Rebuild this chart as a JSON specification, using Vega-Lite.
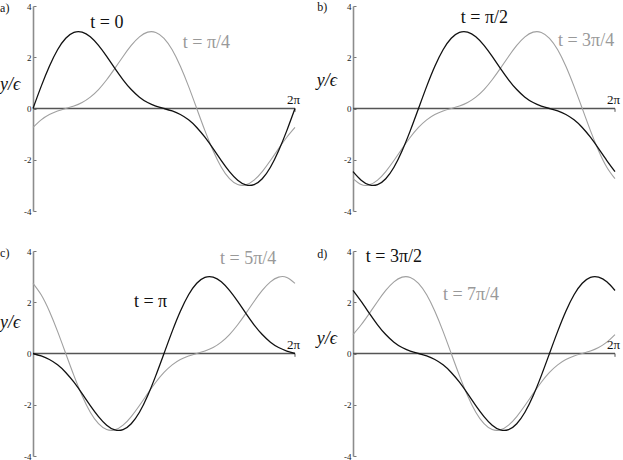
{
"$schema": "https://vega.github.io/schema/vega-lite/v6.json",
"padding": 0,
"bounds": "flush",
"columns": 2,
"spacing": {"row": 40, "column": 58},
"config": {
  "view": {"stroke": null},
  "axisX": {"disable": true},
  "axisY": {"domainColor": "#8c8c8c", "domainWidth": 1.6, "tickColor": "#777777", "tickSize": -3, "tickWidth": 1, "labelFont": "Liberation Serif", "labelFontSize": 9, "labelColor": "#222222", "labelPadding": 5, "grid": false, "tickCount": 4, "labelExpr": "'' + datum.value"},
  "text": {"font": "Liberation Serif"}
},
"datasets": {"curves": [
{"p":"a","c":"g","x":0,"y":-0.739},{"p":"a","c":"g","x":0.196,"y":-0.443},{"p":"a","c":"g","x":0.393,"y":-0.234},{"p":"a","c":"g","x":0.589,"y":-0.097},{"p":"a","c":"g","x":0.785,"y":0},{"p":"a","c":"g","x":0.982,"y":0.097},{"p":"a","c":"g","x":1.178,"y":0.234},{"p":"a","c":"g","x":1.374,"y":0.443},{"p":"a","c":"g","x":1.571,"y":0.739},{"p":"a","c":"g","x":1.767,"y":1.121},{"p":"a","c":"g","x":1.963,"y":1.566},{"p":"a","c":"g","x":2.16,"y":2.03},{"p":"a","c":"g","x":2.356,"y":2.46},{"p":"a","c":"g","x":2.553,"y":2.796},{"p":"a","c":"g","x":2.749,"y":2.98},{"p":"a","c":"g","x":2.945,"y":2.969},{"p":"a","c":"g","x":3.142,"y":2.739},{"p":"a","c":"g","x":3.338,"y":2.291},{"p":"a","c":"g","x":3.534,"y":1.648},{"p":"a","c":"g","x":3.731,"y":0.863},{"p":"a","c":"g","x":3.927,"y":0},{"p":"a","c":"g","x":4.123,"y":-0.863},{"p":"a","c":"g","x":4.32,"y":-1.648},{"p":"a","c":"g","x":4.516,"y":-2.291},{"p":"a","c":"g","x":4.712,"y":-2.739},{"p":"a","c":"g","x":4.909,"y":-2.969},{"p":"a","c":"g","x":5.105,"y":-2.98},{"p":"a","c":"g","x":5.301,"y":-2.796},{"p":"a","c":"g","x":5.498,"y":-2.46},{"p":"a","c":"g","x":5.694,"y":-2.03},{"p":"a","c":"g","x":5.89,"y":-1.566},{"p":"a","c":"g","x":6.087,"y":-1.121},{"p":"a","c":"g","x":6.283,"y":-0.739},
{"p":"a","c":"k","x":0,"y":0},{"p":"a","c":"k","x":0.196,"y":0.863},{"p":"a","c":"k","x":0.393,"y":1.648},{"p":"a","c":"k","x":0.589,"y":2.291},{"p":"a","c":"k","x":0.785,"y":2.739},{"p":"a","c":"k","x":0.982,"y":2.969},{"p":"a","c":"k","x":1.178,"y":2.98},{"p":"a","c":"k","x":1.374,"y":2.796},{"p":"a","c":"k","x":1.571,"y":2.46},{"p":"a","c":"k","x":1.767,"y":2.03},{"p":"a","c":"k","x":1.963,"y":1.566},{"p":"a","c":"k","x":2.16,"y":1.121},{"p":"a","c":"k","x":2.356,"y":0.739},{"p":"a","c":"k","x":2.553,"y":0.443},{"p":"a","c":"k","x":2.749,"y":0.234},{"p":"a","c":"k","x":2.945,"y":0.097},{"p":"a","c":"k","x":3.142,"y":0},{"p":"a","c":"k","x":3.338,"y":-0.097},{"p":"a","c":"k","x":3.534,"y":-0.234},{"p":"a","c":"k","x":3.731,"y":-0.443},{"p":"a","c":"k","x":3.927,"y":-0.739},{"p":"a","c":"k","x":4.123,"y":-1.121},{"p":"a","c":"k","x":4.32,"y":-1.566},{"p":"a","c":"k","x":4.516,"y":-2.03},{"p":"a","c":"k","x":4.712,"y":-2.46},{"p":"a","c":"k","x":4.909,"y":-2.796},{"p":"a","c":"k","x":5.105,"y":-2.98},{"p":"a","c":"k","x":5.301,"y":-2.969},{"p":"a","c":"k","x":5.498,"y":-2.739},{"p":"a","c":"k","x":5.694,"y":-2.291},{"p":"a","c":"k","x":5.89,"y":-1.648},{"p":"a","c":"k","x":6.087,"y":-0.863},{"p":"a","c":"k","x":6.283,"y":0},
{"p":"b","c":"g","x":0,"y":-2.739},{"p":"b","c":"g","x":0.196,"y":-2.969},{"p":"b","c":"g","x":0.393,"y":-2.98},{"p":"b","c":"g","x":0.589,"y":-2.796},{"p":"b","c":"g","x":0.785,"y":-2.46},{"p":"b","c":"g","x":0.982,"y":-2.03},{"p":"b","c":"g","x":1.178,"y":-1.566},{"p":"b","c":"g","x":1.374,"y":-1.121},{"p":"b","c":"g","x":1.571,"y":-0.739},{"p":"b","c":"g","x":1.767,"y":-0.443},{"p":"b","c":"g","x":1.963,"y":-0.234},{"p":"b","c":"g","x":2.16,"y":-0.097},{"p":"b","c":"g","x":2.356,"y":0},{"p":"b","c":"g","x":2.553,"y":0.097},{"p":"b","c":"g","x":2.749,"y":0.234},{"p":"b","c":"g","x":2.945,"y":0.443},{"p":"b","c":"g","x":3.142,"y":0.739},{"p":"b","c":"g","x":3.338,"y":1.121},{"p":"b","c":"g","x":3.534,"y":1.566},{"p":"b","c":"g","x":3.731,"y":2.03},{"p":"b","c":"g","x":3.927,"y":2.46},{"p":"b","c":"g","x":4.123,"y":2.796},{"p":"b","c":"g","x":4.32,"y":2.98},{"p":"b","c":"g","x":4.516,"y":2.969},{"p":"b","c":"g","x":4.712,"y":2.739},{"p":"b","c":"g","x":4.909,"y":2.291},{"p":"b","c":"g","x":5.105,"y":1.648},{"p":"b","c":"g","x":5.301,"y":0.863},{"p":"b","c":"g","x":5.498,"y":0},{"p":"b","c":"g","x":5.694,"y":-0.863},{"p":"b","c":"g","x":5.89,"y":-1.648},{"p":"b","c":"g","x":6.087,"y":-2.291},{"p":"b","c":"g","x":6.283,"y":-2.739},
{"p":"b","c":"k","x":0,"y":-2.46},{"p":"b","c":"k","x":0.196,"y":-2.796},{"p":"b","c":"k","x":0.393,"y":-2.98},{"p":"b","c":"k","x":0.589,"y":-2.969},{"p":"b","c":"k","x":0.785,"y":-2.739},{"p":"b","c":"k","x":0.982,"y":-2.291},{"p":"b","c":"k","x":1.178,"y":-1.648},{"p":"b","c":"k","x":1.374,"y":-0.863},{"p":"b","c":"k","x":1.571,"y":0},{"p":"b","c":"k","x":1.767,"y":0.863},{"p":"b","c":"k","x":1.963,"y":1.648},{"p":"b","c":"k","x":2.16,"y":2.291},{"p":"b","c":"k","x":2.356,"y":2.739},{"p":"b","c":"k","x":2.553,"y":2.969},{"p":"b","c":"k","x":2.749,"y":2.98},{"p":"b","c":"k","x":2.945,"y":2.796},{"p":"b","c":"k","x":3.142,"y":2.46},{"p":"b","c":"k","x":3.338,"y":2.03},{"p":"b","c":"k","x":3.534,"y":1.566},{"p":"b","c":"k","x":3.731,"y":1.121},{"p":"b","c":"k","x":3.927,"y":0.739},{"p":"b","c":"k","x":4.123,"y":0.443},{"p":"b","c":"k","x":4.32,"y":0.234},{"p":"b","c":"k","x":4.516,"y":0.097},{"p":"b","c":"k","x":4.712,"y":0},{"p":"b","c":"k","x":4.909,"y":-0.097},{"p":"b","c":"k","x":5.105,"y":-0.234},{"p":"b","c":"k","x":5.301,"y":-0.443},{"p":"b","c":"k","x":5.498,"y":-0.739},{"p":"b","c":"k","x":5.694,"y":-1.121},{"p":"b","c":"k","x":5.89,"y":-1.566},{"p":"b","c":"k","x":6.087,"y":-2.03},{"p":"b","c":"k","x":6.283,"y":-2.46},
{"p":"c","c":"g","x":0,"y":2.739},{"p":"c","c":"g","x":0.196,"y":2.291},{"p":"c","c":"g","x":0.393,"y":1.648},{"p":"c","c":"g","x":0.589,"y":0.863},{"p":"c","c":"g","x":0.785,"y":0},{"p":"c","c":"g","x":0.982,"y":-0.863},{"p":"c","c":"g","x":1.178,"y":-1.648},{"p":"c","c":"g","x":1.374,"y":-2.291},{"p":"c","c":"g","x":1.571,"y":-2.739},{"p":"c","c":"g","x":1.767,"y":-2.969},{"p":"c","c":"g","x":1.963,"y":-2.98},{"p":"c","c":"g","x":2.16,"y":-2.796},{"p":"c","c":"g","x":2.356,"y":-2.46},{"p":"c","c":"g","x":2.553,"y":-2.03},{"p":"c","c":"g","x":2.749,"y":-1.566},{"p":"c","c":"g","x":2.945,"y":-1.121},{"p":"c","c":"g","x":3.142,"y":-0.739},{"p":"c","c":"g","x":3.338,"y":-0.443},{"p":"c","c":"g","x":3.534,"y":-0.234},{"p":"c","c":"g","x":3.731,"y":-0.097},{"p":"c","c":"g","x":3.927,"y":0},{"p":"c","c":"g","x":4.123,"y":0.097},{"p":"c","c":"g","x":4.32,"y":0.234},{"p":"c","c":"g","x":4.516,"y":0.443},{"p":"c","c":"g","x":4.712,"y":0.739},{"p":"c","c":"g","x":4.909,"y":1.121},{"p":"c","c":"g","x":5.105,"y":1.566},{"p":"c","c":"g","x":5.301,"y":2.03},{"p":"c","c":"g","x":5.498,"y":2.46},{"p":"c","c":"g","x":5.694,"y":2.796},{"p":"c","c":"g","x":5.89,"y":2.98},{"p":"c","c":"g","x":6.087,"y":2.969},{"p":"c","c":"g","x":6.283,"y":2.739},
{"p":"c","c":"k","x":0,"y":0},{"p":"c","c":"k","x":0.196,"y":-0.097},{"p":"c","c":"k","x":0.393,"y":-0.234},{"p":"c","c":"k","x":0.589,"y":-0.443},{"p":"c","c":"k","x":0.785,"y":-0.739},{"p":"c","c":"k","x":0.982,"y":-1.121},{"p":"c","c":"k","x":1.178,"y":-1.566},{"p":"c","c":"k","x":1.374,"y":-2.03},{"p":"c","c":"k","x":1.571,"y":-2.46},{"p":"c","c":"k","x":1.767,"y":-2.796},{"p":"c","c":"k","x":1.963,"y":-2.98},{"p":"c","c":"k","x":2.16,"y":-2.969},{"p":"c","c":"k","x":2.356,"y":-2.739},{"p":"c","c":"k","x":2.553,"y":-2.291},{"p":"c","c":"k","x":2.749,"y":-1.648},{"p":"c","c":"k","x":2.945,"y":-0.863},{"p":"c","c":"k","x":3.142,"y":0},{"p":"c","c":"k","x":3.338,"y":0.863},{"p":"c","c":"k","x":3.534,"y":1.648},{"p":"c","c":"k","x":3.731,"y":2.291},{"p":"c","c":"k","x":3.927,"y":2.739},{"p":"c","c":"k","x":4.123,"y":2.969},{"p":"c","c":"k","x":4.32,"y":2.98},{"p":"c","c":"k","x":4.516,"y":2.796},{"p":"c","c":"k","x":4.712,"y":2.46},{"p":"c","c":"k","x":4.909,"y":2.03},{"p":"c","c":"k","x":5.105,"y":1.566},{"p":"c","c":"k","x":5.301,"y":1.121},{"p":"c","c":"k","x":5.498,"y":0.739},{"p":"c","c":"k","x":5.694,"y":0.443},{"p":"c","c":"k","x":5.89,"y":0.234},{"p":"c","c":"k","x":6.087,"y":0.097},{"p":"c","c":"k","x":6.283,"y":0},
{"p":"d","c":"g","x":0,"y":0.739},{"p":"d","c":"g","x":0.196,"y":1.121},{"p":"d","c":"g","x":0.393,"y":1.566},{"p":"d","c":"g","x":0.589,"y":2.03},{"p":"d","c":"g","x":0.785,"y":2.46},{"p":"d","c":"g","x":0.982,"y":2.796},{"p":"d","c":"g","x":1.178,"y":2.98},{"p":"d","c":"g","x":1.374,"y":2.969},{"p":"d","c":"g","x":1.571,"y":2.739},{"p":"d","c":"g","x":1.767,"y":2.291},{"p":"d","c":"g","x":1.963,"y":1.648},{"p":"d","c":"g","x":2.16,"y":0.863},{"p":"d","c":"g","x":2.356,"y":0},{"p":"d","c":"g","x":2.553,"y":-0.863},{"p":"d","c":"g","x":2.749,"y":-1.648},{"p":"d","c":"g","x":2.945,"y":-2.291},{"p":"d","c":"g","x":3.142,"y":-2.739},{"p":"d","c":"g","x":3.338,"y":-2.969},{"p":"d","c":"g","x":3.534,"y":-2.98},{"p":"d","c":"g","x":3.731,"y":-2.796},{"p":"d","c":"g","x":3.927,"y":-2.46},{"p":"d","c":"g","x":4.123,"y":-2.03},{"p":"d","c":"g","x":4.32,"y":-1.566},{"p":"d","c":"g","x":4.516,"y":-1.121},{"p":"d","c":"g","x":4.712,"y":-0.739},{"p":"d","c":"g","x":4.909,"y":-0.443},{"p":"d","c":"g","x":5.105,"y":-0.234},{"p":"d","c":"g","x":5.301,"y":-0.097},{"p":"d","c":"g","x":5.498,"y":0},{"p":"d","c":"g","x":5.694,"y":0.097},{"p":"d","c":"g","x":5.89,"y":0.234},{"p":"d","c":"g","x":6.087,"y":0.443},{"p":"d","c":"g","x":6.283,"y":0.739},
{"p":"d","c":"k","x":0,"y":2.46},{"p":"d","c":"k","x":0.196,"y":2.03},{"p":"d","c":"k","x":0.393,"y":1.566},{"p":"d","c":"k","x":0.589,"y":1.121},{"p":"d","c":"k","x":0.785,"y":0.739},{"p":"d","c":"k","x":0.982,"y":0.443},{"p":"d","c":"k","x":1.178,"y":0.234},{"p":"d","c":"k","x":1.374,"y":0.097},{"p":"d","c":"k","x":1.571,"y":0},{"p":"d","c":"k","x":1.767,"y":-0.097},{"p":"d","c":"k","x":1.963,"y":-0.234},{"p":"d","c":"k","x":2.16,"y":-0.443},{"p":"d","c":"k","x":2.356,"y":-0.739},{"p":"d","c":"k","x":2.553,"y":-1.121},{"p":"d","c":"k","x":2.749,"y":-1.566},{"p":"d","c":"k","x":2.945,"y":-2.03},{"p":"d","c":"k","x":3.142,"y":-2.46},{"p":"d","c":"k","x":3.338,"y":-2.796},{"p":"d","c":"k","x":3.534,"y":-2.98},{"p":"d","c":"k","x":3.731,"y":-2.969},{"p":"d","c":"k","x":3.927,"y":-2.739},{"p":"d","c":"k","x":4.123,"y":-2.291},{"p":"d","c":"k","x":4.32,"y":-1.648},{"p":"d","c":"k","x":4.516,"y":-0.863},{"p":"d","c":"k","x":4.712,"y":0},{"p":"d","c":"k","x":4.909,"y":0.863},{"p":"d","c":"k","x":5.105,"y":1.648},{"p":"d","c":"k","x":5.301,"y":2.291},{"p":"d","c":"k","x":5.498,"y":2.739},{"p":"d","c":"k","x":5.694,"y":2.969},{"p":"d","c":"k","x":5.89,"y":2.98},{"p":"d","c":"k","x":6.087,"y":2.796},{"p":"d","c":"k","x":6.283,"y":2.46}
]},
"concat": [
{
 "width": 262, "height": 205,
 "data": {"values": [{}]},
 "layer": [
  {"mark": {"type": "rule", "color": "#555555", "strokeWidth": 1.4}, "encoding": {"x": {"datum": 0, "scale": {"domain": [0, 6.2832], "nice": false, "zero": false}}, "x2": {"datum": 6.2832}, "y": {"datum": 0, "scale": {"domain": [-4, 4], "nice": false}}}},
  {"mark": {"type": "rule", "color": "#555555", "strokeWidth": 1}, "encoding": {"x": {"datum": 6.2832}, "y": {"datum": 0}, "y2": {"datum": -0.13}}},
  {"data": {"name": "curves"}, "transform": [{"filter": "datum.p == 'a'"}], "mark": {"type": "line", "interpolate": "natural"},
   "encoding": {"x": {"field": "x", "type": "quantitative"}, "y": {"field": "y", "type": "quantitative", "title": null},
    "color": {"field": "c", "type": "nominal", "scale": {"domain": ["g", "k"], "range": ["#a0a0a0", "#111111"]}, "legend": null},
    "strokeWidth": {"field": "c", "type": "nominal", "scale": {"domain": ["g", "k"], "range": [1.1, 1.3]}, "legend": null}}},
  {"mark": {"type": "text", "text": "2π", "font": "Liberation Serif", "fontSize": 13, "align": "center", "baseline": "bottom", "color": "#111111"}, "encoding": {"x": {"datum": 6.25}, "y": {"datum": 0.05}}},
  {"mark": {"type": "text", "text": "y/ϵ", "font": "Liberation Serif", "fontSize": 18, "fontStyle": "italic", "align": "left", "baseline": "middle", "color": "#111111"}, "encoding": {"x": {"datum": -0.79}, "y": {"datum": 0.92}}},
  {"mark": {"type": "text", "text": "a)", "font": "Liberation Serif", "fontSize": 12, "align": "left", "baseline": "middle", "color": "#111111"}, "encoding": {"x": {"datum": -0.79}, "y": {"datum": 3.94}}},
  {"mark": {"type": "text", "text": "t = 0", "font": "Liberation Serif", "fontSize": 18, "align": "center", "baseline": "middle", "color": "#111111"}, "encoding": {"x": {"datum": 1.77}, "y": {"datum": 3.34}}},
  {"mark": {"type": "text", "text": "t = π/4", "font": "Liberation Serif", "fontSize": 18, "align": "center", "baseline": "middle", "color": "#999999"}, "encoding": {"x": {"datum": 4.16}, "y": {"datum": 2.56}}}
 ]
},
{
 "width": 262, "height": 205,
 "data": {"values": [{}]},
 "layer": [
  {"mark": {"type": "rule", "color": "#555555", "strokeWidth": 1.4}, "encoding": {"x": {"datum": 0, "scale": {"domain": [0, 6.2832], "nice": false, "zero": false}}, "x2": {"datum": 6.2832}, "y": {"datum": 0, "scale": {"domain": [-4, 4], "nice": false}}}},
  {"mark": {"type": "rule", "color": "#555555", "strokeWidth": 1}, "encoding": {"x": {"datum": 6.2832}, "y": {"datum": 0}, "y2": {"datum": -0.13}}},
  {"data": {"name": "curves"}, "transform": [{"filter": "datum.p == 'b'"}], "mark": {"type": "line", "interpolate": "natural"},
   "encoding": {"x": {"field": "x", "type": "quantitative"}, "y": {"field": "y", "type": "quantitative", "title": null},
    "color": {"field": "c", "type": "nominal", "scale": {"domain": ["g", "k"], "range": ["#a0a0a0", "#111111"]}, "legend": null},
    "strokeWidth": {"field": "c", "type": "nominal", "scale": {"domain": ["g", "k"], "range": [1.1, 1.3]}, "legend": null}}},
  {"mark": {"type": "text", "text": "2π", "font": "Liberation Serif", "fontSize": 13, "align": "center", "baseline": "bottom", "color": "#111111"}, "encoding": {"x": {"datum": 6.25}, "y": {"datum": 0.05}}},
  {"mark": {"type": "text", "text": "y/ϵ", "font": "Liberation Serif", "fontSize": 18, "fontStyle": "italic", "align": "left", "baseline": "middle", "color": "#111111"}, "encoding": {"x": {"datum": -0.87}, "y": {"datum": 1.07}}},
  {"mark": {"type": "text", "text": "b)", "font": "Liberation Serif", "fontSize": 12, "align": "left", "baseline": "middle", "color": "#111111"}, "encoding": {"x": {"datum": -0.86}, "y": {"datum": 3.97}}},
  {"mark": {"type": "text", "text": "t = π/2", "font": "Liberation Serif", "fontSize": 18, "align": "center", "baseline": "middle", "color": "#111111"}, "encoding": {"x": {"datum": 3.15}, "y": {"datum": 3.54}}},
  {"mark": {"type": "text", "text": "t = 3π/4", "font": "Liberation Serif", "fontSize": 18, "align": "center", "baseline": "middle", "color": "#999999"}, "encoding": {"x": {"datum": 5.59}, "y": {"datum": 2.63}}}
 ]
},
{
 "width": 262, "height": 205,
 "data": {"values": [{}]},
 "layer": [
  {"mark": {"type": "rule", "color": "#555555", "strokeWidth": 1.4}, "encoding": {"x": {"datum": 0, "scale": {"domain": [0, 6.2832], "nice": false, "zero": false}}, "x2": {"datum": 6.2832}, "y": {"datum": 0, "scale": {"domain": [-4, 4], "nice": false}}}},
  {"mark": {"type": "rule", "color": "#555555", "strokeWidth": 1}, "encoding": {"x": {"datum": 6.2832}, "y": {"datum": 0}, "y2": {"datum": -0.13}}},
  {"data": {"name": "curves"}, "transform": [{"filter": "datum.p == 'c'"}], "mark": {"type": "line", "interpolate": "natural"},
   "encoding": {"x": {"field": "x", "type": "quantitative"}, "y": {"field": "y", "type": "quantitative", "title": null},
    "color": {"field": "c", "type": "nominal", "scale": {"domain": ["g", "k"], "range": ["#a0a0a0", "#111111"]}, "legend": null},
    "strokeWidth": {"field": "c", "type": "nominal", "scale": {"domain": ["g", "k"], "range": [1.1, 1.3]}, "legend": null}}},
  {"mark": {"type": "text", "text": "2π", "font": "Liberation Serif", "fontSize": 13, "align": "center", "baseline": "bottom", "color": "#111111"}, "encoding": {"x": {"datum": 6.25}, "y": {"datum": 0.05}}},
  {"mark": {"type": "text", "text": "y/ϵ", "font": "Liberation Serif", "fontSize": 18, "fontStyle": "italic", "align": "left", "baseline": "middle", "color": "#111111"}, "encoding": {"x": {"datum": -0.79}, "y": {"datum": 1.2}}},
  {"mark": {"type": "text", "text": "c)", "font": "Liberation Serif", "fontSize": 12, "align": "left", "baseline": "middle", "color": "#111111"}, "encoding": {"x": {"datum": -0.79}, "y": {"datum": 3.92}}},
  {"mark": {"type": "text", "text": "t = π", "font": "Liberation Serif", "fontSize": 18, "align": "center", "baseline": "middle", "color": "#111111"}, "encoding": {"x": {"datum": 2.82}, "y": {"datum": 2.02}}},
  {"mark": {"type": "text", "text": "t = 5π/4", "font": "Liberation Serif", "fontSize": 18, "align": "center", "baseline": "middle", "color": "#999999"}, "encoding": {"x": {"datum": 5.16}, "y": {"datum": 3.67}}}
 ]
},
{
 "width": 262, "height": 205,
 "data": {"values": [{}]},
 "layer": [
  {"mark": {"type": "rule", "color": "#555555", "strokeWidth": 1.4}, "encoding": {"x": {"datum": 0, "scale": {"domain": [0, 6.2832], "nice": false, "zero": false}}, "x2": {"datum": 6.2832}, "y": {"datum": 0, "scale": {"domain": [-4, 4], "nice": false}}}},
  {"mark": {"type": "rule", "color": "#555555", "strokeWidth": 1}, "encoding": {"x": {"datum": 6.2832}, "y": {"datum": 0}, "y2": {"datum": -0.13}}},
  {"data": {"name": "curves"}, "transform": [{"filter": "datum.p == 'd'"}], "mark": {"type": "line", "interpolate": "natural"},
   "encoding": {"x": {"field": "x", "type": "quantitative"}, "y": {"field": "y", "type": "quantitative", "title": null},
    "color": {"field": "c", "type": "nominal", "scale": {"domain": ["g", "k"], "range": ["#a0a0a0", "#111111"]}, "legend": null},
    "strokeWidth": {"field": "c", "type": "nominal", "scale": {"domain": ["g", "k"], "range": [1.1, 1.3]}, "legend": null}}},
  {"mark": {"type": "text", "text": "2π", "font": "Liberation Serif", "fontSize": 13, "align": "center", "baseline": "bottom", "color": "#111111"}, "encoding": {"x": {"datum": 6.25}, "y": {"datum": 0.05}}},
  {"mark": {"type": "text", "text": "y/ϵ", "font": "Liberation Serif", "fontSize": 18, "fontStyle": "italic", "align": "left", "baseline": "middle", "color": "#111111"}, "encoding": {"x": {"datum": -0.87}, "y": {"datum": 0.55}}},
  {"mark": {"type": "text", "text": "d)", "font": "Liberation Serif", "fontSize": 12, "align": "left", "baseline": "middle", "color": "#111111"}, "encoding": {"x": {"datum": -0.86}, "y": {"datum": 3.88}}},
  {"mark": {"type": "text", "text": "t = 3π/2", "font": "Liberation Serif", "fontSize": 18, "align": "center", "baseline": "middle", "color": "#111111"}, "encoding": {"x": {"datum": 0.98}, "y": {"datum": 3.77}}},
  {"mark": {"type": "text", "text": "t = 7π/4", "font": "Liberation Serif", "fontSize": 18, "align": "center", "baseline": "middle", "color": "#999999"}, "encoding": {"x": {"datum": 2.83}, "y": {"datum": 2.28}}}
 ]
}
]
}
